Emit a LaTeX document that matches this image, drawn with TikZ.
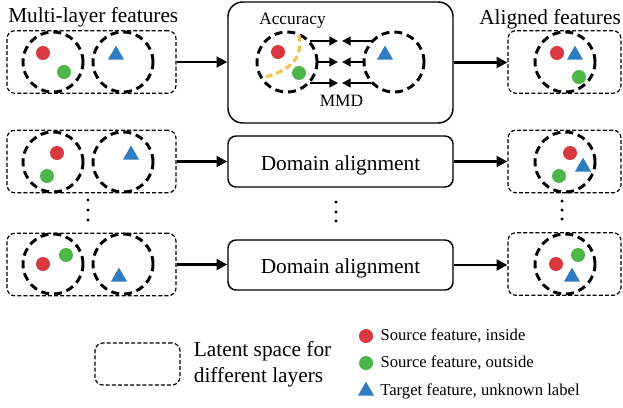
\documentclass[tikz,border=0pt]{standalone}
\usepackage{fontspec}
\setmainfont{Liberation Serif}
\usetikzlibrary{positioning, shapes, arrows.meta}

\definecolor{redin}{HTML}{D9383F}
\definecolor{greenout}{HTML}{4DB649}
\definecolor{bluetgt}{HTML}{2E7CC2}
\definecolor{accline}{HTML}{F2C24E}

\begin{document}
\begin{tikzpicture}[x=0.75pt, y=-0.75pt,
	latent/.style={draw, line width=0.9pt, dash pattern=on 3pt off 1.6pt, rounded corners=6pt, minimum height=47pt},
	layer/.style={circle, draw, line width=2.2pt, dash pattern=on 6pt off 3.7pt, minimum size=45pt, inner sep=0pt},
	block/.style={draw, line width=1.1pt, minimum width=168.75pt, font=\fontsize{16}{19}\selectfont, text height=12.8pt, text depth=0pt},
	inside/.style={circle, fill=redin, minimum size=10.5pt, inner sep=0pt},
	outside/.style={circle, fill=greenout, minimum size=10.5pt, inner sep=0pt},
	target/.style={regular polygon, regular polygon sides=3, fill=bluetgt, minimum size=14pt, inner sep=0pt},
	flow/.style={line width=2.2pt, -{Triangle[length=8pt, width=8pt]}},
	pull/.style={line width=2pt, -{Triangle[length=6.5pt, width=6.5pt]}},
	title/.style={font=\fontsize{16}{19.5}\selectfont, inner sep=0pt},
	note/.style={font=\fontsize{13}{15}\selectfont, inner sep=0pt},
	small/.style={font=\fontsize{12.5}{15}\selectfont, inner sep=0pt}]
	\useasboundingbox (0,0) rectangle (623,407);
	
	% Multi-layer features
	\node[title, anchor=base west] (multi) at (8,22.5) {Multi-layer features};
	\node[latent, minimum width=126.75pt] (feat1) at (91.5,62) {};
	\node[layer] (srcA1) at (53,62) {};
	\node[layer] (tgtA1) at (123,62) {};
	\node[inside] (inA1) at (43,53) {};
	\node[outside] (outA1) at (64,72) {};
	\node[target] (triA1) at (116,55) {};
	
	\node[latent, minimum width=126.75pt] (feat2) at (91.5,161.5) {};
	\node[layer] (srcA2) at (53,162) {};
	\node[layer] (tgtA2) at (123,162) {};
	\node[inside] (inA2) at (57,153) {};
	\node[outside] (outA2) at (47,176) {};
	\node[target] (triA2) at (131,155) {};
	
	\node[latent, minimum width=126.75pt] (feat3) at (91.5,264.5) {};
	\node[layer] (srcA3) at (53,264) {};
	\node[layer] (tgtA3) at (123,264) {};
	\node[inside] (inA3) at (43,264) {};
	\node[outside] (outA3) at (66,255) {};
	\node[target] (triA3) at (119,277) {};
	
	\fill (88,200) circle (1.3pt);
	\fill (88,210) circle (1.3pt);
	\fill (88,220) circle (1.3pt);
	
	% Alignment
	\node[block, rounded corners=11pt, minimum height=90.75pt] (align1) at (340.5,62.5) {};
	\node[note, anchor=base west] (accuracy) at (259,24) {Accuracy};
	\node[note, anchor=base] (mmd) at (341.5,106) {MMD};
	\node[layer] (lc) at (287,62) {};
	\node[layer] (rc) at (394,62) {};
	\node[inside] (inM) at (278,52) {};
	\node[outside] (outM) at (299,73) {};
	\node[target] (triM) at (385,55) {};
	\draw[accline, line width=2.4pt, dash pattern=on 5pt off 3pt] (299,35) .. controls (303,58) and (292,70) .. (262,78);
	\coordinate (mL) at (338,62);
	\coordinate (mR) at (342,62);
	
	\node[block, rounded corners=6pt, minimum height=38.25pt] (align2) at (340.5,161.5) {Domain alignment};
	\node[block, rounded corners=6pt, minimum height=37.5pt] (align3) at (340.5,265) {Domain alignment};
	
	\fill (336,202) circle (1.3pt);
	\fill (336,212) circle (1.3pt);
	\fill (336,221) circle (1.3pt);
	
	% Aligned features
	\node[title, anchor=base west] (alignedtitle) at (479,24) {Aligned features};
	\node[latent, minimum width=84.75pt] (aligned1) at (564.5,62) {};
	\node[layer] (mixB1) at (565,62) {};
	\node[inside] (inB1) at (557,53) {};
	\node[target] (triB1) at (575,55) {};
	\node[outside] (outB1) at (579,77) {};
	
	\node[latent, minimum width=84.75pt] (aligned2) at (564.5,161.5) {};
	\node[layer] (mixB2) at (565,162) {};
	\node[inside] (inB2) at (570,153) {};
	\node[target] (triB2) at (583,167) {};
	\node[outside] (outB2) at (559,176) {};
	
	\node[latent, minimum width=84.75pt] (aligned3) at (564.5,264) {};
	\node[layer] (mixB3) at (565,264) {};
	\node[inside] (inB3) at (556,264) {};
	\node[outside] (outB3) at (578,255) {};
	\node[target] (triB3) at (572,277) {};
	
	\fill (562,201) circle (1.3pt);
	\fill (562,210) circle (1.3pt);
	\fill (562,219) circle (1.3pt);
	
	% Legend
	\node[latent, minimum width=63.75pt, minimum height=31.5pt] (latentkey) at (137.5,364) {};
	\node[title, align=left, right=9.75pt of latentkey] (latenttext) {Latent space for\\different layers};
	\node[inside] (keyin) at (366,336) {};
	\node[outside] (keyout) at (366,363) {};
	\node[target] (keytgt) at (366,391) {};
	\node[small, right=5.25pt of keyin] (txtin) {Source feature, inside};
	\node[small, right=5.25pt of keyout] (txtout) {Source feature, outside};
	\node[small, right=5.25pt of keytgt.center, xshift=5.25pt] (txttgt) {Target feature, unknown label};
	
	% Connections
	\draw[flow] (feat1.east) -- (feat1.east -| align1.west);
	\draw[flow] (feat2.east) -- (feat2.east -| align2.west);
	\draw[flow] (feat3.east) -- (feat3.east -| align3.west);
	\draw[flow] (align1.east) -- (align1.east -| aligned1.west);
	\draw[flow] (align2.east) -- (align2.east -| aligned2.west);
	\draw[flow] (align3.east) -- (align3.east -| aligned3.west);
	\draw[pull] (lc.42) -- (lc.42 -| mL);
	\draw[pull] (lc.east) -- (mL);
	\draw[pull] (lc.-42) -- (lc.-42 -| mL);
	\draw[pull] (rc.138) -- (rc.138 -| mR);
	\draw[pull] (rc.west) -- (mR);
	\draw[pull] (rc.-138) -- (rc.-138 -| mR);
\end{tikzpicture}
\end{document}
